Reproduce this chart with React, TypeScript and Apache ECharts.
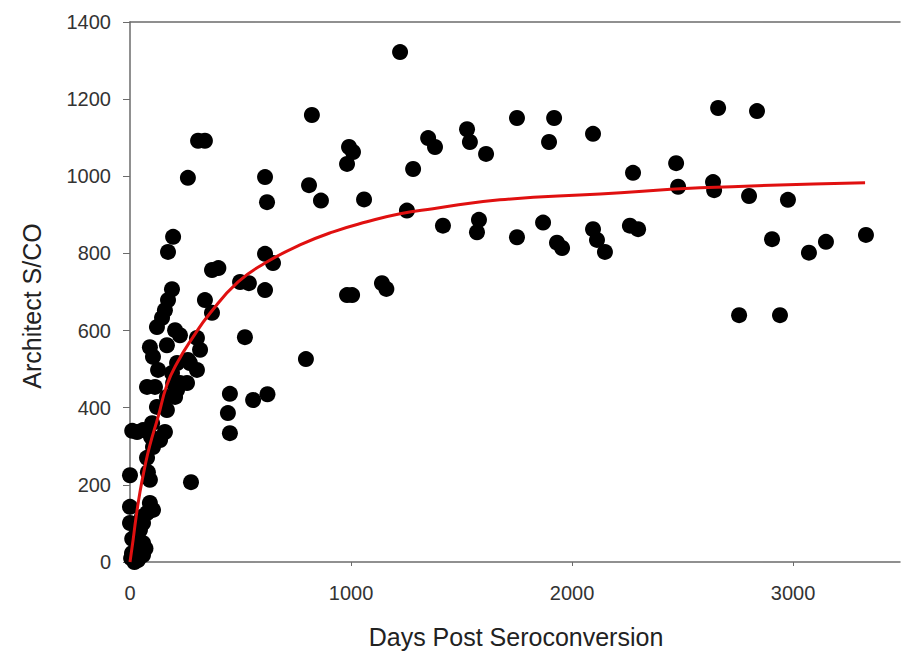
import React, { useEffect, useRef } from "react";
import * as echarts from "echarts";

// Observed data points: [days post seroconversion, Architect S/CO]
const scatterPoints: number[][] = [
  [1222, 1322], [823, 1159], [991, 1076], [1009, 1063], [982, 1032], [1349, 1099], [1380, 1076],
  [1281, 1019], [1525, 1122], [1538, 1089], [1611, 1058], [1751, 1151], [1919, 1151], [1896, 1089],
  [2095, 1110], [810, 977], [864, 937], [1059, 940], [1253, 911], [1416, 872], [1579, 887],
  [1570, 855], [1751, 842], [1869, 880], [1932, 828], [1955, 814], [2095, 863], [2113, 835],
  [2149, 804], [982, 692], [1005, 692], [1140, 723], [1160, 708],
  [2661, 1177], [2837, 1169], [2276, 1009], [2471, 1034], [2480, 973], [2638, 985], [2643, 964],
  [2801, 949], [2977, 939], [2262, 872], [2299, 863], [2905, 837], [3072, 802], [3149, 830],
  [3330, 848], [2756, 640], [2941, 640],
  [796, 526],
  [611, 998], [620, 933], [371, 757], [400, 762], [611, 799], [647, 775], [339, 679], [371, 646],
  [498, 726], [538, 723], [611, 705], [308, 1092], [339, 1092], [262, 996], [172, 804], [195, 843],
  [190, 707], [520, 583], [452, 436], [443, 386], [452, 334], [557, 420], [622, 435], [276, 207],
  [0, 225],
  [172, 679], [158, 653], [145, 633], [122, 609], [204, 601], [226, 588], [90, 557], [104, 532],
  [167, 562], [303, 581], [317, 550], [271, 516], [303, 498], [213, 516], [190, 490], [226, 464],
  [213, 446], [77, 454], [113, 454], [167, 428], [122, 402], [167, 394], [100, 360], [158, 337],
  [136, 316], [104, 298], [77, 270], [81, 233], [90, 213], [32, 337], [59, 342], [90, 153],
  [77, 127], [104, 135], [54, 117], [45, 83], [59, 49], [23, 65], [32, 31], [9, 23], [0, 101],
  [59, 101], [0, 143], [59, 18], [36, 5], [10, 60], [5, 10], [20, 0], [45, 20], [70, 35],
  [258, 464], [262, 524], [127, 498], [195, 464], [204, 428], [10, 340], [95, 325]
];

// Fitted curve
const fitCurve: number[][] = [
  [0, 0], [14, 57], [27, 114], [45, 181], [68, 249], [90, 303], [127, 376], [167, 459],
  [213, 516], [285, 583], [362, 645], [489, 726], [611, 775], [769, 822], [919, 856],
  [1072, 882], [1222, 903], [1371, 916], [1674, 939], [2127, 954], [2579, 970], [3326, 983]
];

const xTicks = [0, 1000, 2000, 3000];
const yTicks = [0, 200, 400, 600, 800, 1000, 1200, 1400];

const FONT = "Liberation Sans, Arial, sans-serif";
const AXIS_COLOR = "#6b6b6b";

export default function App() {
  const ref = useRef<HTMLDivElement>(null);
  useEffect(() => {
    if (!ref.current) return;
    const chart = echarts.init(ref.current, undefined, { renderer: "svg" });
    chart.setOption({
      animation: false,
      backgroundColor: "#ffffff",
      grid: { left: 130, top: 22, right: 1, bottom: 91, containLabel: false },
      xAxis: [
        {
          type: "value",
          min: 0,
          max: 3484,
          interval: 1000,
          splitLine: { show: false },
          axisLine: { show: true, onZero: false, lineStyle: { color: AXIS_COLOR, width: 1.5 } },
          axisTick: { show: true, length: 4, customValues: xTicks, lineStyle: { color: AXIS_COLOR } },
          axisLabel: {
            customValues: xTicks,
            formatter: (v: number) => String(v),
            margin: 21,
            fontFamily: FONT,
            fontSize: 20,
            color: "#333"
          }
        },
        {
          type: "value",
          position: "top",
          min: 0,
          max: 3484,
          axisLine: { show: true, onZero: false, lineStyle: { color: AXIS_COLOR, width: 1.5 } },
          axisTick: { show: false },
          axisLabel: { show: false },
          splitLine: { show: false }
        }
      ],
      yAxis: {
        type: "value",
        min: 0,
        max: 1400,
        interval: 200,
        splitLine: { show: false },
        axisLine: { show: true, onZero: false, lineStyle: { color: AXIS_COLOR, width: 1.5 } },
        axisTick: { show: true, length: 7, customValues: yTicks, lineStyle: { color: AXIS_COLOR } },
        axisLabel: {
          formatter: (v: number) => String(v),
          margin: 19,
          fontFamily: FONT,
          fontSize: 20,
          color: "#333"
        }
      },
      graphic: [
        {
          type: "text",
          x: 516,
          y: 637,
          style: {
            text: "Days Post Seroconversion",
            fontFamily: FONT,
            fontSize: 25,
            fill: "#222",
            align: "center",
            verticalAlign: "middle"
          }
        },
        {
          type: "text",
          x: 32,
          y: 306,
          rotation: Math.PI / 2,
          style: {
            text: "Architect S/CO",
            fontFamily: FONT,
            fontSize: 25,
            fill: "#222",
            align: "center",
            verticalAlign: "middle"
          }
        }
      ],
      series: [
        {
          type: "scatter",
          data: scatterPoints,
          symbol: "circle",
          symbolSize: 16,
          itemStyle: { color: "#000000", opacity: 1 },
          z: 2
        },
        {
          type: "line",
          data: fitCurve,
          smooth: true,
          showSymbol: false,
          symbol: "none",
          lineStyle: { color: "#e01010", width: 3 },
          z: 3
        }
      ]
    });
    return () => chart.dispose();
  }, []);
  return <div ref={ref} style={{ width: 901, height: 653, position: "absolute", left: 0, top: 0 }} />;
}
